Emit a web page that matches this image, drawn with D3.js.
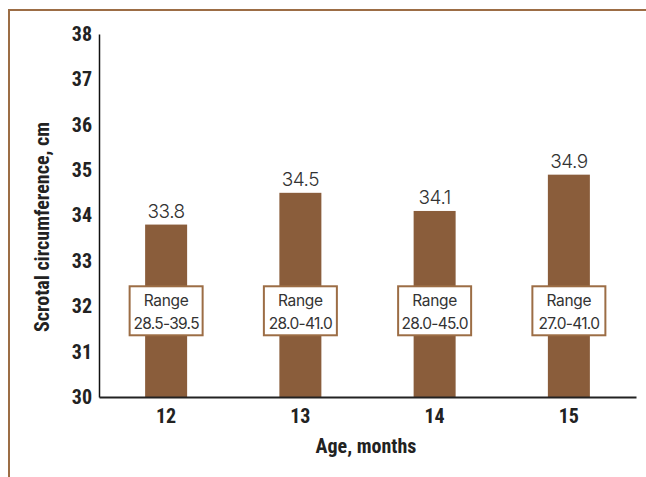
<!DOCTYPE html>
<html><head><meta charset="utf-8">
<script src="https://cdn.jsdelivr.net/npm/d3@7"></script>
<style>
html,body{margin:0;padding:0;background:#fff;}
svg{display:block;}
</style></head>
<body><svg id="c" width="646" height="477"></svg>
<script>
const ages = ["12","13","14","15"];
const means = [33.8, 34.5, 34.1, 34.9];
const ranges = ["28.5-39.5","28.0-41.0","28.0-45.0","27.0-41.0"];
const yTicks = [30,31,32,33,34,35,36,37,38];

const svg = d3.select("#c");
const brown = "#8a5d3b";
const frame = "#9c6d45";
const condensed = "'Liberation Sans Narrow','Roboto Condensed','Roboto',sans-serif";

// frame
svg.append("path").attr("d","M9,477 L9,10 L646,10").attr("fill","none")
  .attr("stroke",frame).attr("stroke-width",2);

const m = {l:99, r:636, t:34, b:397};
const x = d3.scaleBand().domain(ages).range([m.l, m.r]).padding(0);
const y = d3.scaleLinear().domain([30,38]).range([m.b, m.t]);
const bw = 42;

// bars
svg.selectAll("rect.bar").data(means).join("rect").attr("class","bar")
  .attr("x",(d,i)=>x(ages[i])+x.bandwidth()/2-bw/2)
  .attr("y",d=>y(d)).attr("width",bw).attr("height",d=>y(30)-y(d))
  .attr("fill",brown);

// value labels
svg.selectAll("text.val").data(means).join("text").attr("class","val")
  .attr("x",(d,i)=>x(ages[i])+x.bandwidth()/2)
  .attr("y",d=>y(d)-7).attr("text-anchor","middle")
  .attr("font-family","Inter, 'Noto Sans', sans-serif").attr("font-weight",300)
  .attr("font-size",19).attr("fill","#333").attr("letter-spacing",-0.5)
  .text(d=>d.toFixed(1));

// range boxes
const boxW = 73, boxH = 49, boxTop = y(32.44);
const g = svg.selectAll("g.rng").data(ranges).join("g").attr("class","rng")
  .attr("transform",(d,i)=>`translate(${x(ages[i])+x.bandwidth()/2},${boxTop})`);
g.append("rect").attr("x",-boxW/2).attr("y",0).attr("width",boxW).attr("height",boxH)
  .attr("fill","#fff").attr("stroke",frame).attr("stroke-width",2);
g.append("text").attr("y",19.5).attr("text-anchor","middle")
  .attr("font-family","Inter, 'Noto Sans', sans-serif").attr("font-size",15.5)
  .attr("fill","#333").attr("letter-spacing",-0.3).text("Range");
g.append("text").attr("y",42.5).attr("text-anchor","middle")
  .attr("font-family","Inter, 'Noto Sans', sans-serif").attr("font-size",15.5)
  .attr("fill","#333").attr("letter-spacing",-0.7).text(d=>d);

// axes
const ya = svg.append("g").attr("transform",`translate(${m.l},0)`)
  .call(d3.axisLeft(y).tickValues(yTicks).tickSize(0).tickPadding(7));
ya.select(".domain").attr("stroke","#111").attr("stroke-width",1.5);
ya.selectAll("text").attr("font-family",condensed).attr("font-weight","bold")
  .attr("font-size",20).attr("fill","#222");

const xa = svg.append("g").attr("transform",`translate(0,${m.b})`)
  .call(d3.axisBottom(x).tickSize(0).tickPadding(12));
xa.select(".domain").attr("stroke","#222").attr("stroke-width",2);
xa.selectAll("text").attr("font-family",condensed).attr("font-weight","bold")
  .attr("font-size",20).attr("fill","#222");

svg.append("text").attr("transform","translate(49,227) rotate(-90)")
  .attr("text-anchor","middle").attr("font-family",condensed).attr("font-weight","bold")
  .attr("font-size",20).attr("fill","#222").text("Scrotal circumference, cm");
svg.append("text").attr("x",366).attr("y",453).attr("text-anchor","middle")
  .attr("font-family",condensed).attr("font-weight","bold")
  .attr("font-size",20).attr("fill","#222").text("Age, months");
</script></body></html>
